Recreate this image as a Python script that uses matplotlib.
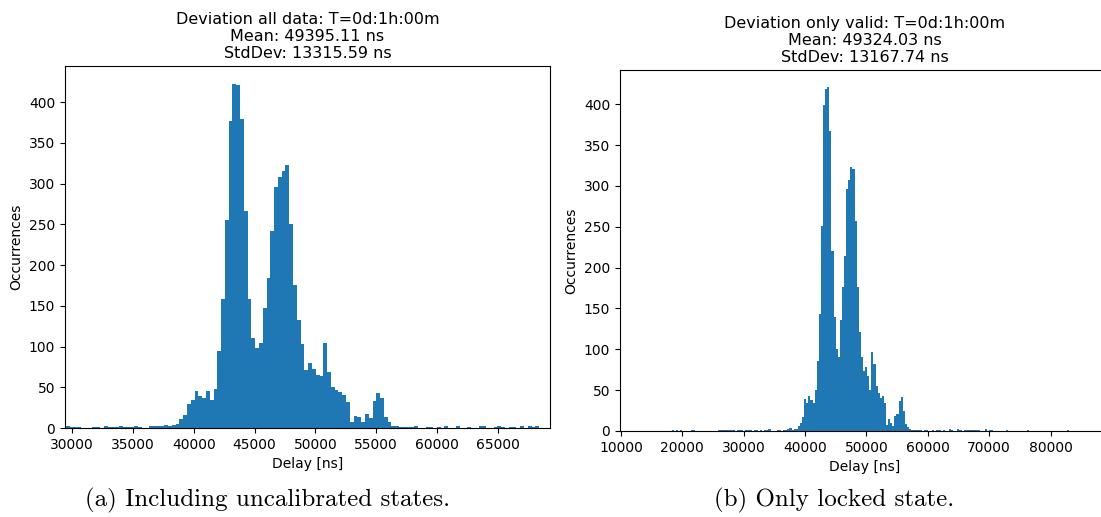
import numpy as np
import matplotlib
matplotlib.use("Agg")
import matplotlib.pyplot as plt

# ---------------- data ----------------
# (a) all data: histogram bins
left_bin_start = 29500.0
left_bin_width = 311.0
left_counts = [
    2, 1, 1, 1, 0, 0, 0, 1, 1, 0,
    2, 1, 1, 1, 2, 1, 1, 1, 2, 1,
    0, 0, 2, 2, 2, 3, 4, 3, 4, 5,
    11, 16, 29, 34, 45, 39, 37, 45, 34, 48,
    95, 158, 256, 377, 423, 421, 380, 267, 158, 110,
    98, 104, 147, 184, 242, 296, 308, 316, 323, 251,
    176, 133, 103, 71, 80, 72, 65, 64, 104, 69,
    50, 47, 44, 40, 32, 7, 15, 13, 7, 17,
    12, 33, 43, 37, 13, 7, 2, 2, 1, 1,
    1, 1, 2, 0, 0, 1, 1, 0, 1, 0,
    2, 0, 0, 2, 0, 0, 1, 0, 0, 2,
    2, 0, 0, 1, 2, 1, 0, 1, 1, 0,
    2, 0, 2, 1, 2, 0, 0, 0,
]
left_title = "Deviation all data: T=0d:1h:00m\nMean: 49395.11 ns\nStdDev: 13315.59 ns"
left_xticks = [30000, 35000, 40000, 45000, 50000, 55000, 60000, 65000]
left_xlim = (29425, 69270)

# (b) only valid data
right_bin_start = 16250.0
right_bin_width = 342.0
right_counts = [
    0, 0, 0, 0, 0, 0, 1, 0, 1, 0,
    1, 0, 0, 0, 0, 1, 1, 0, 0, 0,
    0, 0, 0, 0, 0, 0, 0, 0, 1, 1,
    1, 1, 1, 1, 1, 1, 0, 1, 1, 1,
    0, 1, 1, 1, 0, 1, 1, 0, 1, 0,
    1, 1, 2, 0, 0, 0, 1, 1, 0, 1,
    1, 2, 4, 1, 2, 3, 6, 10, 17, 39,
    34, 43, 38, 34, 50, 86, 143, 251, 399, 419,
    421, 367, 220, 140, 100, 91, 136, 176, 214, 296,
    307, 323, 321, 257, 176, 121, 91, 73, 78, 67,
    50, 97, 82, 55, 46, 40, 43, 34, 7, 15,
    10, 6, 18, 21, 37, 42, 24, 9, 5, 2,
    1, 1, 1, 1, 1, 0, 1, 1, 0, 0,
    1, 0, 1, 1, 0, 1, 0, 0, 2, 1,
    0, 0, 2, 1, 0, 1, 1, 1, 1, 1,
    1, 1, 1, 0, 0, 2, 0, 1, 1, 0,
    0, 0, 0, 0, 0, 1, 0, 0, 0, 0,
    0, 0, 0, 0, 0, 1, 0, 0, 0, 0,
    0, 0, 0, 0, 0, 0, 0, 0, 0, 0,
    0, 0, 0, 0, 1,
]
right_title = "Deviation only valid: T=0d:1h:00m\nMean: 49324.03 ns\nStdDev: 13167.74 ns"
right_xticks = [10000, 20000, 30000, 40000, 50000, 60000, 70000, 80000]
right_xlim = (9850, 89680)

yticks = [0, 50, 100, 150, 200, 250, 300, 350, 400]
xlabel = "Delay [ns]"
ylabel = "Occurrences"
caption_a = "(a) Including uncalibrated states."
caption_b = "(b) Only locked state."

# ---------------- figure ----------------
W, H = 1101, 517
fig = plt.figure(figsize=(W / 100, H / 100), dpi=100)


def px_axes(l, t, r, b):
    return fig.add_axes([l / W, 1 - b / H, (r - l) / W, (b - t) / H])


def draw(ax, start, width, counts, title, xticks, xlim, ymax):
    counts = np.asarray(counts, dtype=float)
    edges = start + width * np.arange(len(counts) + 1)
    centers = 0.5 * (edges[:-1] + edges[1:])
    ax.hist(centers, bins=edges, weights=counts, color="#1f77b4")
    ax.set_xlim(*xlim)
    ax.set_ylim(0, ymax)
    ax.set_xticks(xticks)
    ax.set_yticks(yticks)
    ax.tick_params(labelsize=10)
    ax.set_xlabel(xlabel, fontsize=10)
    ax.set_ylabel(ylabel, fontsize=10)
    ax.set_title(title, fontsize=11.5, linespacing=1.15)


axL = px_axes(65, 66, 550, 428)
draw(axL, left_bin_start, left_bin_width, left_counts, left_title,
     left_xticks, left_xlim, 444.5)

axR = px_axes(620, 70, 1110, 431)
draw(axR, right_bin_start, right_bin_width, right_counts, right_title,
     right_xticks, right_xlim, 442)

fig.text(268 / W, 1 - 500 / H, caption_a, ha="center", va="center",
         family="cmr10", fontsize=18)
fig.text(834 / W, 1 - 500 / H, caption_b, ha="center", va="center",
         family="cmr10", fontsize=18)

fig.savefig("out.png", dpi=100)
